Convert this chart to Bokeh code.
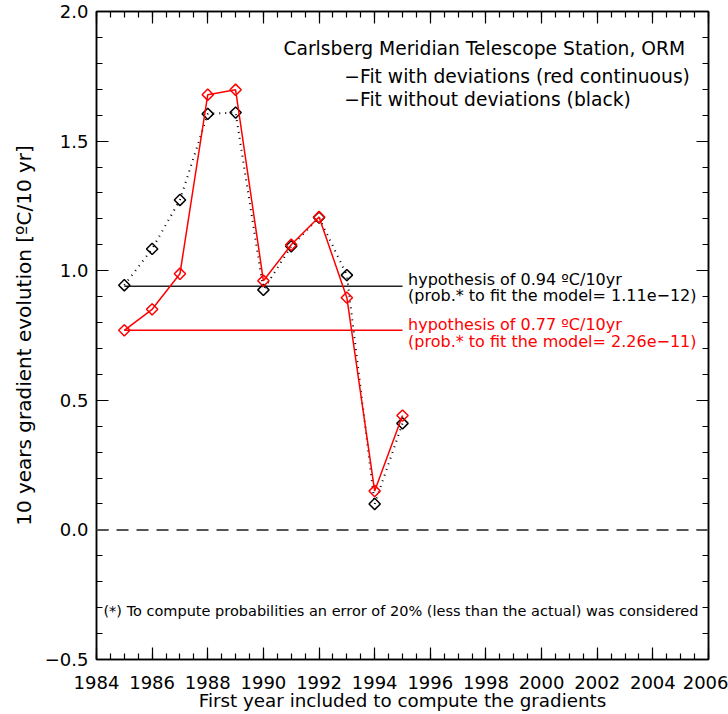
import numpy as np
from bokeh.plotting import figure
from bokeh.models import Range1d, LinearAxis, FixedTicker, Span, Label, Title
from bokeh.embed import file_html
from bokeh.resources import INLINE

# ---- data ----
years = [1985, 1986, 1987, 1988, 1989, 1990, 1991, 1992, 1993, 1994, 1995]
grad_no_dev = [0.944, 1.084, 1.273, 1.605, 1.610, 0.926, 1.094, 1.205, 0.983, 0.100, 0.411]
grad_dev = [0.770, 0.851, 0.988, 1.679, 1.698, 0.961, 1.100, 1.207, 0.896, 0.150, 0.441]
hyp_black = 0.94
hyp_red = 0.77
hyp_years = [1985, 1995]

x_major = [1984, 1986, 1988, 1990, 1992, 1994, 1996, 1998, 2000, 2002, 2004, 2006]
y_major = [-0.5, 0.0, 0.5, 1.0, 1.5, 2.0]
y_labels = ["\u22120.5", "0.0", "0.5", "1.0", "1.5", "2.0"]

x_title = "First year included to compute the gradients"
y_title = "10 years gradient evolution [\u00baC/10 yr]"

FONT = "DejaVu Sans"

p = figure(width=728, height=714, output_backend="svg", toolbar_location=None,
           x_range=Range1d(1984, 2006), y_range=Range1d(-0.5, 2.0),
           min_border_left=96, min_border_right=20, min_border_top=11, min_border_bottom=55,
           x_axis_label=x_title)
p.grid.visible = False
p.outline_line_color = "black"
p.outline_line_width = 1.5
p.background_fill_color = "white"
p.border_fill_color = "white"

x_minor = list(np.arange(1984, 2006.01, 0.5))
y_minor = list(np.round(np.arange(-0.5, 2.001, 0.1), 2))

def style_axis(ax, labels=True):
    ax.axis_line_color = "black"
    ax.axis_line_width = 1.5
    ax.major_tick_in = 12
    ax.major_tick_out = 0
    ax.minor_tick_in = 6
    ax.minor_tick_out = 0
    ax.major_tick_line_color = "black"
    ax.minor_tick_line_color = "black"
    ax.major_tick_line_width = 1.2
    ax.minor_tick_line_width = 1.2
    ax.major_label_text_font = FONT
    ax.major_label_text_font_size = "18px"
    ax.major_label_text_color = "black"
    ax.axis_label_text_font = FONT
    ax.axis_label_text_font_size = "18.3px"
    ax.axis_label_text_font_style = "normal"
    ax.axis_label_text_color = "black"
    if not labels:
        ax.major_label_text_font_size = "0px"
        ax.major_label_text_alpha = 0

xt = FixedTicker(ticks=x_major, minor_ticks=x_minor)
yt = FixedTicker(ticks=y_major, minor_ticks=y_minor)
ylab = {v: s for v, s in zip(y_major, y_labels)}

p.xaxis.ticker = xt
p.yaxis.ticker = yt
p.yaxis.major_label_overrides = ylab
style_axis(p.xaxis[0])
style_axis(p.yaxis[0])
p.xaxis.major_label_standoff = 16
p.xaxis.axis_label_standoff = -2
p.yaxis.major_label_standoff = 8

top = LinearAxis(ticker=FixedTicker(ticks=x_major, minor_ticks=x_minor))
right = LinearAxis(ticker=FixedTicker(ticks=y_major, minor_ticks=y_minor))
style_axis(top, labels=False)
style_axis(right, labels=False)
p.add_layout(top, "above")
p.add_layout(right, "right")

# y-axis title (sits a little above the frame centre, as in the reference)
p.add_layout(Title(text=y_title, align="center", offset=42, standoff=12,
                   text_font=FONT, text_font_size="20px", text_font_style="normal",
                   text_color="black"), "left")

# zero line
p.add_layout(Span(location=0, dimension="width", line_color="#555555",
                  line_width=2, line_dash="12 8"))

# hypothesis lines
p.line(hyp_years, [hyp_black, hyp_black], line_color="#222222", line_width=1.5)
p.line(hyp_years, [hyp_red, hyp_red], line_color="red", line_width=1.5)

# series
p.line(years, grad_no_dev, line_color="black", line_width=2, line_dash="1 5")
p.scatter(years, grad_no_dev, marker="square", angle=np.pi/4, size=8,
          fill_color=None, line_color="black", line_width=1.5)
p.line(years, grad_dev, line_color="red", line_width=1.5)
p.scatter(years, grad_dev, marker="square", angle=np.pi/4, size=8,
          fill_color=None, line_color="red", line_width=1.5)

def lab(x, y, t, color="black", size="16px"):
    p.add_layout(Label(x=x, y=y, text=t, text_color=color, text_font=FONT,
                       text_font_size=size, text_baseline="middle", text_align="left"))

lab(1990.72, 1.858, "Carlsberg Meridian Telescope Station, ORM", size="18.7px")
lab(1992.91, 1.750, "\u2212Fit with deviations (red continuous)", size="18.7px")
lab(1992.91, 1.662, "\u2212Fit without deviations (black)", size="18.7px")

lab(1995.2, 0.967, "hypothesis of 0.94 \u00baC/10yr")
lab(1995.2, 0.905, "(prob.* to fit the model= 1.11e\u221212)")
lab(1995.2, 0.794, "hypothesis of 0.77 \u00baC/10yr", color="red")
lab(1995.2, 0.728, "(prob.* to fit the model= 2.26e\u221211)", color="red")

lab(1984.25, -0.312, "(*) To compute probabilities an error of 20% (less than the actual) was considered", size="14.5px")

open("out.html", "w").write(file_html(p, INLINE))
